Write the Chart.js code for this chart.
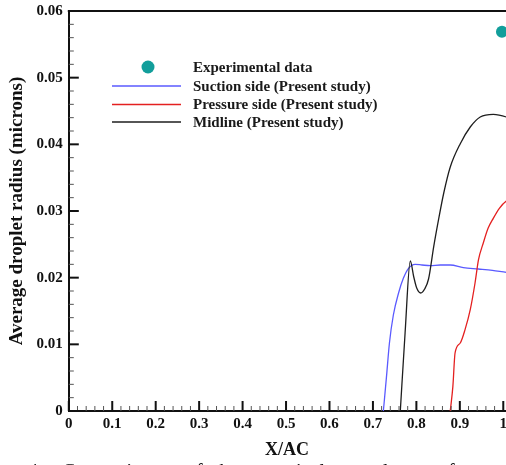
<!DOCTYPE html>
<html><head><meta charset="utf-8">
<script src="https://cdn.jsdelivr.net/npm/chart.js@4.4.0/dist/chart.umd.min.js"></script>
<style>
html,body{margin:0;padding:0;background:#fff;overflow:hidden;width:506px;height:465px;}
#wrap{position:relative;width:506px;height:465px;overflow:hidden;background:#fff;}
#c{position:absolute;left:0;top:0;}
.cap{position:absolute;top:461px;font-family:"Liberation Serif","Times New Roman",serif;font-size:20px;line-height:20px;color:#111;white-space:nowrap;}
</style></head><body>
<div id="wrap">
<canvas id="c" width="540" height="465" style="width:540px;height:465px"></canvas>
<span class="cap" style="left:28px">4.</span>
<span class="cap" style="left:62px">Comparison</span>
<span class="cap" style="left:186px">of</span>
<span class="cap" style="left:214px">the</span>
<span class="cap" style="left:245px">numerical</span>
<span class="cap" style="left:364px">values</span>
<span class="cap" style="left:438px">of</span>
</div>
<script>
// ---- data ----
const suctionX = [0.724,0.731,0.738,0.747,0.759,0.770,0.782,0.797,0.813,0.832,0.855,0.878,0.908,0.943,0.975,1.007,1.05];
const suctionY = [0.0000,0.0050,0.0102,0.0144,0.0177,0.0199,0.0214,0.0220,0.0219,0.0218,0.0219,0.0219,0.0215,0.0213,0.0211,0.0208,0.0205];

const pressureX = [0.878,0.884,0.889,0.901,0.912,0.924,0.935,0.943,0.954,0.965,0.977,0.991,1.007,1.05];
const pressureY = [0.0000,0.0037,0.0087,0.0102,0.0122,0.0152,0.0192,0.0227,0.0252,0.0274,0.0289,0.0304,0.0315,0.0325];

const midlineX = [0.763,0.774,0.786,0.794,0.801,0.810,0.819,0.828,0.840,0.851,0.863,0.878,0.901,0.924,0.947,0.977,1.007,1.05];
const midlineY = [0.0000,0.0117,0.0225,0.0201,0.0184,0.0177,0.0183,0.0198,0.0247,0.0287,0.0327,0.0366,0.0401,0.0426,0.0441,0.0445,0.0441,0.0428];

const expX = [0.997];
const expY = [0.0569];

const seriesNames = ["Experimental data","Suction side (Present study)","Pressure side (Present study)","Midline (Present study)"];
const xTickValues = [0,0.1,0.2,0.3,0.4,0.5,0.6,0.7,0.8,0.9,1];
const yTickValues = [0,0.01,0.02,0.03,0.04,0.05,0.06];
const xTitle = "X/AC";
const yTitle = "Average droplet radius (microns)";

const C_BLUE = "rgb(90,90,255)";
const C_RED = "rgb(228,32,32)";
const C_BLACK = "rgb(30,30,30)";
const C_TEAL = "rgb(18,158,155)";
const SERIF = '"Liberation Serif","Times New Roman",serif';

const pts = (xs, ys) => xs.map((x, i) => ({x, y: ys[i]}));

const decor = {
  id: 'decor',
  afterDatasetsDraw(chart) {
    const ctx = chart.ctx, a = chart.chartArea;
    const xs = chart.scales.x, ys = chart.scales.y;
    ctx.save();
    ctx.strokeStyle = '#111';
    // top border
    ctx.lineWidth = 2;
    ctx.beginPath(); ctx.moveTo(a.left - 1, a.top); ctx.lineTo(chart.width, a.top); ctx.stroke();
    // x ticks (inward)
    for (let i = 0; i <= 52; i++) {
      const v = i * 0.02;
      const major = i % 5 === 0;
      const px = xs.getPixelForValue(v);
      ctx.lineWidth = major ? 2 : 1;
      ctx.strokeStyle = major ? '#111' : '#555';
      ctx.beginPath(); ctx.moveTo(px, a.bottom); ctx.lineTo(px, a.bottom - (major ? 10 : 5)); ctx.stroke();
    }
    // y ticks (inward)
    for (let i = 0; i <= 30; i++) {
      const v = i * 0.002;
      const major = i % 5 === 0;
      const py = ys.getPixelForValue(v);
      ctx.lineWidth = major ? 2 : 1;
      ctx.strokeStyle = major ? '#111' : '#555';
      ctx.beginPath(); ctx.moveTo(a.left, py); ctx.lineTo(a.left + (major ? 10 : 5), py); ctx.stroke();
    }
    // x title centred on mid-value of the visible axis
    ctx.fillStyle = '#111';
    ctx.font = 'bold 18px ' + SERIF;
    ctx.textAlign = 'center'; ctx.textBaseline = 'middle';
    ctx.fillText(xTitle, xs.getPixelForValue(0.5) + 1, 450);
    // legend
    ctx.fillStyle = C_TEAL;
    ctx.beginPath(); ctx.arc(148, 67, 6.5, 0, Math.PI * 2); ctx.fill();
    const lc = [C_BLUE, C_RED, C_BLACK], ly = [86, 104.5, 122];
    ctx.lineWidth = 1.5;
    for (let i = 0; i < 3; i++) {
      ctx.strokeStyle = lc[i];
      ctx.beginPath(); ctx.moveTo(112, ly[i]); ctx.lineTo(181, ly[i]); ctx.stroke();
    }
    ctx.fillStyle = '#1a1a1a';
    ctx.font = 'bold 15px ' + SERIF;
    ctx.textAlign = 'left'; ctx.textBaseline = 'middle';
    const ty = [68.5, 87, 105, 123];
    for (let i = 0; i < 4; i++) ctx.fillText(seriesNames[i], 193, ty[i]);
    ctx.restore();
  }
};

new Chart(document.getElementById('c'), {
  type: 'scatter',
  data: {
    datasets: [
      {label: seriesNames[0], data: pts(expX, expY), showLine: false, pointRadius: 6, pointBackgroundColor: C_TEAL, pointBorderWidth: 0, order: 0},
      {label: seriesNames[1], data: pts(suctionX, suctionY), showLine: true, borderColor: C_BLUE, borderWidth: 1.3, pointRadius: 0, cubicInterpolationMode: 'monotone', order: 3},
      {label: seriesNames[2], data: pts(pressureX, pressureY), showLine: true, borderColor: C_RED, borderWidth: 1.3, pointRadius: 0, cubicInterpolationMode: 'monotone', order: 2},
      {label: seriesNames[3], data: pts(midlineX, midlineY), showLine: true, borderColor: C_BLACK, borderWidth: 1.3, pointRadius: 0, cubicInterpolationMode: 'monotone', order: 1}
    ]
  },
  options: {
    responsive: false,
    animation: false,
    events: [],
    layout: {padding: {top: 11, right: 15, left: 0, bottom: 0}},
    plugins: {legend: {display: false}, tooltip: {enabled: false}},
    scales: {
      x: {
        type: 'linear', min: 0, max: 1.05,
        afterBuildTicks(s) { s.ticks = xTickValues.map(v => ({value: v})); },
        afterFit(s) { s.height = 54; s.paddingLeft = 0; s.paddingRight = 0; },
        grid: {display: false, drawTicks: false},
        border: {display: true, color: '#111', width: 2},
        ticks: {
          autoSkip: false, maxRotation: 0, padding: 4, color: '#111',
          font: {family: SERIF, size: 15, weight: 'bold'},
          callback: v => (v === 0 ? '0' : (Math.abs(v - 1) < 1e-9 ? '1' : v.toFixed(1)))
        }
      },
      y: {
        type: 'linear', min: 0, max: 0.06,
        afterBuildTicks(s) { s.ticks = yTickValues.map(v => ({value: v})); },
        afterFit(s) { s.width = 68.8; s.paddingTop = 0; s.paddingBottom = 0; },
        grid: {display: false, drawTicks: false},
        border: {display: true, color: '#111', width: 2},
        title: {display: true, text: yTitle, color: '#111', font: {family: SERIF, size: 19, weight: 'bold'}, padding: {top: 6, bottom: 0}},
        ticks: {
          padding: 6, color: '#111',
          font: {family: SERIF, size: 15, weight: 'bold'},
          callback: v => (v === 0 ? '0' : v.toFixed(2))
        }
      }
    }
  },
  plugins: [decor]
});
</script>
</body></html>
